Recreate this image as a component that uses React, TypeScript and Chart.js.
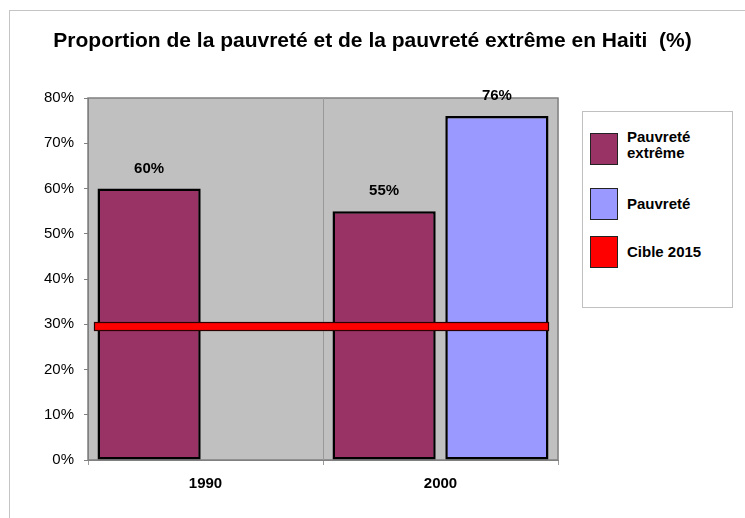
import React, { useEffect, useRef } from "react";
import { Chart, registerables } from "chart.js";

Chart.register(...registerables);

const categories = ["1990", "2000"];
const extremeValues: (number | null)[] = [60, 55];
const povertyValues: (number | null)[] = [null, 76];
const targetValue = 29.5;
const yTicks = [0, 10, 20, 30, 40, 50, 60, 70, 80];

const titleText = "Proportion de la pauvreté et de la pauvreté extrême en Haiti  (%)";
const legendItems = [
  { label: ["Pauvreté", "extrême"], color: "#993366" },
  { label: ["Pauvreté"], color: "#9999FF" },
  { label: ["Cible 2015"], color: "#FF0000" },
];

const FONT = "'Liberation Sans', Arial, Helvetica, sans-serif";

const plotBgPlugin = {
  id: "plotBg",
  beforeDraw(chart: any) {
    const { ctx, chartArea: a } = chart;
    ctx.save();
    ctx.fillStyle = "#C0C0C0";
    ctx.fillRect(a.left, a.top, a.right - a.left, a.bottom - a.top);
    ctx.strokeStyle = "#808080";
    ctx.lineWidth = 1.5;
    ctx.strokeRect(a.left, a.top, a.right - a.left, a.bottom - a.top);
    ctx.restore();
  },
};

const targetAndLabelsPlugin = {
  id: "targetAndLabels",
  afterDatasetsDraw(chart: any) {
    const { ctx } = chart;
    let minX = Infinity;
    let maxX = -Infinity;
    chart.data.datasets.forEach((ds: any, di: number) => {
      const meta = chart.getDatasetMeta(di);
      meta.data.forEach((el: any, i: number) => {
        const v = ds.data[i];
        if (v === null || v === undefined) return;
        const w = el.width;
        minX = Math.min(minX, el.x - w / 2);
        maxX = Math.max(maxX, el.x + w / 2);
      });
    });
    // target line (Cible 2015)
    const y = chart.scales.y.getPixelForValue(targetValue);
    ctx.save();
    ctx.fillStyle = "#FF0000";
    ctx.fillRect(minX - 3, y - 4, maxX - minX + 3, 8);
    ctx.strokeStyle = "#2a0000";
    ctx.lineWidth = 1.2;
    ctx.strokeRect(minX - 3, y - 4, maxX - minX + 3, 8);
    // data labels
    ctx.fillStyle = "#000";
    ctx.font = `bold 15px ${FONT}`;
    ctx.textAlign = "center";
    ctx.textBaseline = "middle";
    chart.data.datasets.forEach((ds: any, di: number) => {
      const meta = chart.getDatasetMeta(di);
      meta.data.forEach((el: any, i: number) => {
        const v = ds.data[i];
        if (v === null || v === undefined) return;
        ctx.fillText(`${v}%`, el.x, el.y - 20);
      });
    });
    ctx.restore();
  },
};

export default function App() {
  const ref = useRef<HTMLCanvasElement | null>(null);

  useEffect(() => {
    if (!ref.current) return;
    const barCommon = {
      borderColor: "#000000",
      borderWidth: 2.5,
      borderSkipped: false,
      categoryPercentage: 0.96,
      barPercentage: 0.915,
    };
    const chart = new Chart(ref.current, {
      type: "bar",
      data: {
        labels: categories,
        datasets: [
          {
            label: "Pauvreté extrême",
            data: extremeValues,
            backgroundColor: "#993366",
            ...barCommon,
          },
          {
            label: "Pauvreté",
            data: povertyValues,
            backgroundColor: "#9999FF",
            ...barCommon,
          },
        ],
      },
      options: {
        animation: false,
        responsive: false,
        maintainAspectRatio: false,
        layout: { padding: 0 },
        plugins: {
          legend: { display: false },
          tooltip: { enabled: false },
          title: {
            display: true,
            text: titleText,
            color: "#000",
            font: { family: FONT, size: 21, weight: "bold", lineHeight: 1.2 },
            padding: { top: 29, bottom: 43.8 },
          },
        },
        scales: {
          x: {
            type: "category",
            grid: {
              display: true,
              drawOnChartArea: true,
              offset: true,
              color: "#999999",
              tickLength: 5,
            },
            border: { display: true, color: "#808080" },
            ticks: {
              color: "#000",
              font: { family: FONT, size: 15, weight: "bold" },
              padding: 10,
              maxRotation: 0,
            },
            afterFit(scale: any) {
              scale.height = 58;
            },
          },
          y: {
            type: "linear",
            min: 0,
            max: 80,
            afterBuildTicks(scale: any) {
              scale.ticks = yTicks.map((v) => ({ value: v }));
            },
            grid: {
              drawOnChartArea: false,
              drawTicks: true,
              tickLength: 4,
              color: "#808080",
            },
            border: { display: true, color: "#808080" },
            ticks: {
              color: "#000",
              font: { family: FONT, size: 15 },
              padding: 10,
              callback: (v: any) => `${v}%`,
            },
            afterFit(scale: any) {
              scale.width = 88;
            },
          },
          y2: {
            type: "linear",
            position: "right",
            display: true,
            grid: { display: false },
            border: { display: false },
            ticks: { display: false },
            afterFit(scale: any) {
              scale.width = 187;
            },
          },
        },
      } as any,
      plugins: [plotBgPlugin, targetAndLabelsPlugin],
    });
    return () => chart.destroy();
  }, []);

  const swatchTops = [133, 188, 236];

  return (
    <div
      style={{
        position: "absolute",
        left: 0,
        top: 0,
        width: 745,
        height: 518,
        overflow: "hidden",
        background: "#fff",
      }}
    >
      <canvas ref={ref} width={745} height={518} style={{ position: "absolute", left: 0, top: 0 }} />
      <div
        style={{
          position: "absolute",
          left: 9,
          top: 10,
          width: 760,
          height: 560,
          borderTop: "1px solid #c4c4c4",
          borderLeft: "1px solid #c4c4c4",
          pointerEvents: "none",
        }}
      />
      <div
        style={{
          position: "absolute",
          left: 582,
          top: 111,
          width: 149,
          height: 195,
          border: "1px solid #c0c0c0",
          background: "#fff",
        }}
      />
      {legendItems.map((item, i) => (
        <React.Fragment key={i}>
          <div
            style={{
              position: "absolute",
              left: 590,
              top: swatchTops[i],
              width: 26,
              height: 30,
              background: item.color,
              border: "1px solid #222",
            }}
          />
          <div
            style={{
              position: "absolute",
              left: 627,
              top: swatchTops[i] + 16 - (item.label.length * 16) / 2 - (item.label.length > 1 ? 4 : 0),
              fontFamily: FONT,
              fontWeight: "bold",
              fontSize: 15,
              lineHeight: "16px",
              color: "#000",
              whiteSpace: "nowrap",
            }}
          >
            {item.label.map((l, j) => (
              <div key={j}>{l}</div>
            ))}
          </div>
        </React.Fragment>
      ))}
    </div>
  );
}
